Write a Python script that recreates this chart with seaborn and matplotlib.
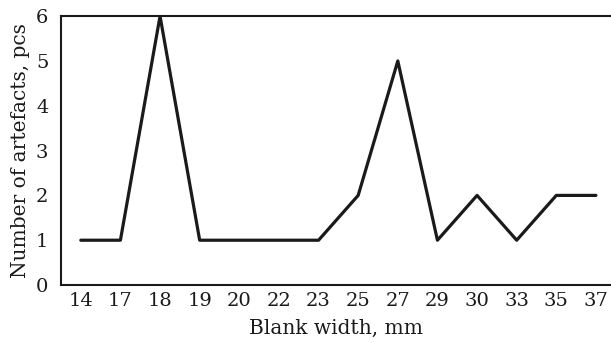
import matplotlib
matplotlib.use("Agg")
import matplotlib.pyplot as plt
import seaborn as sns
import pandas as pd

widths = ["14", "17", "18", "19", "20", "22", "23", "25", "27", "29", "30", "33", "35", "37"]
artefacts = [1, 1, 6, 1, 1, 1, 1, 2, 5, 1, 2, 1, 2, 2]

sns.set_theme(style="white")
plt.rcParams['font.family'] = ['DejaVu Serif']

df = pd.DataFrame({"pos": range(len(widths)), "n": artefacts})

fig = plt.figure(figsize=(6.11, 3.43), dpi=100)
ax = fig.add_axes([0.0998, 0.169, 0.9002, 0.784])
sns.lineplot(data=df, x="pos", y="n", ax=ax, color="#1a1a1a", linewidth=2.3)

ax.set_xlim(-0.5, 13.38)
ax.set_ylim(0, 6)
ax.set_xticks(range(len(widths)))
ax.set_xticklabels(widths)
ax.set_yticks(range(7))
ax.tick_params(axis="x", direction="in", length=6, width=1.2, colors="#1a1a1a", labelsize=14, pad=5)
ax.tick_params(axis="y", length=0, labelsize=14, colors="#1a1a1a", pad=9)
for s in ["left", "bottom", "top"]:
    ax.spines[s].set_color("#1a1a1a")
    ax.spines[s].set_linewidth(1.5)
ax.spines["right"].set_visible(False)
ax.set_xlabel("Blank width, mm", fontsize=14.5, color="#1a1a1a")
ax.xaxis.set_label_coords(0.5, -0.125)
ax.xaxis.label.set_verticalalignment("top")
ax.set_ylabel("Number of artefacts, pcs", fontsize=14.5, color="#1a1a1a", labelpad=4)

fig.savefig("out.png", dpi=100)
